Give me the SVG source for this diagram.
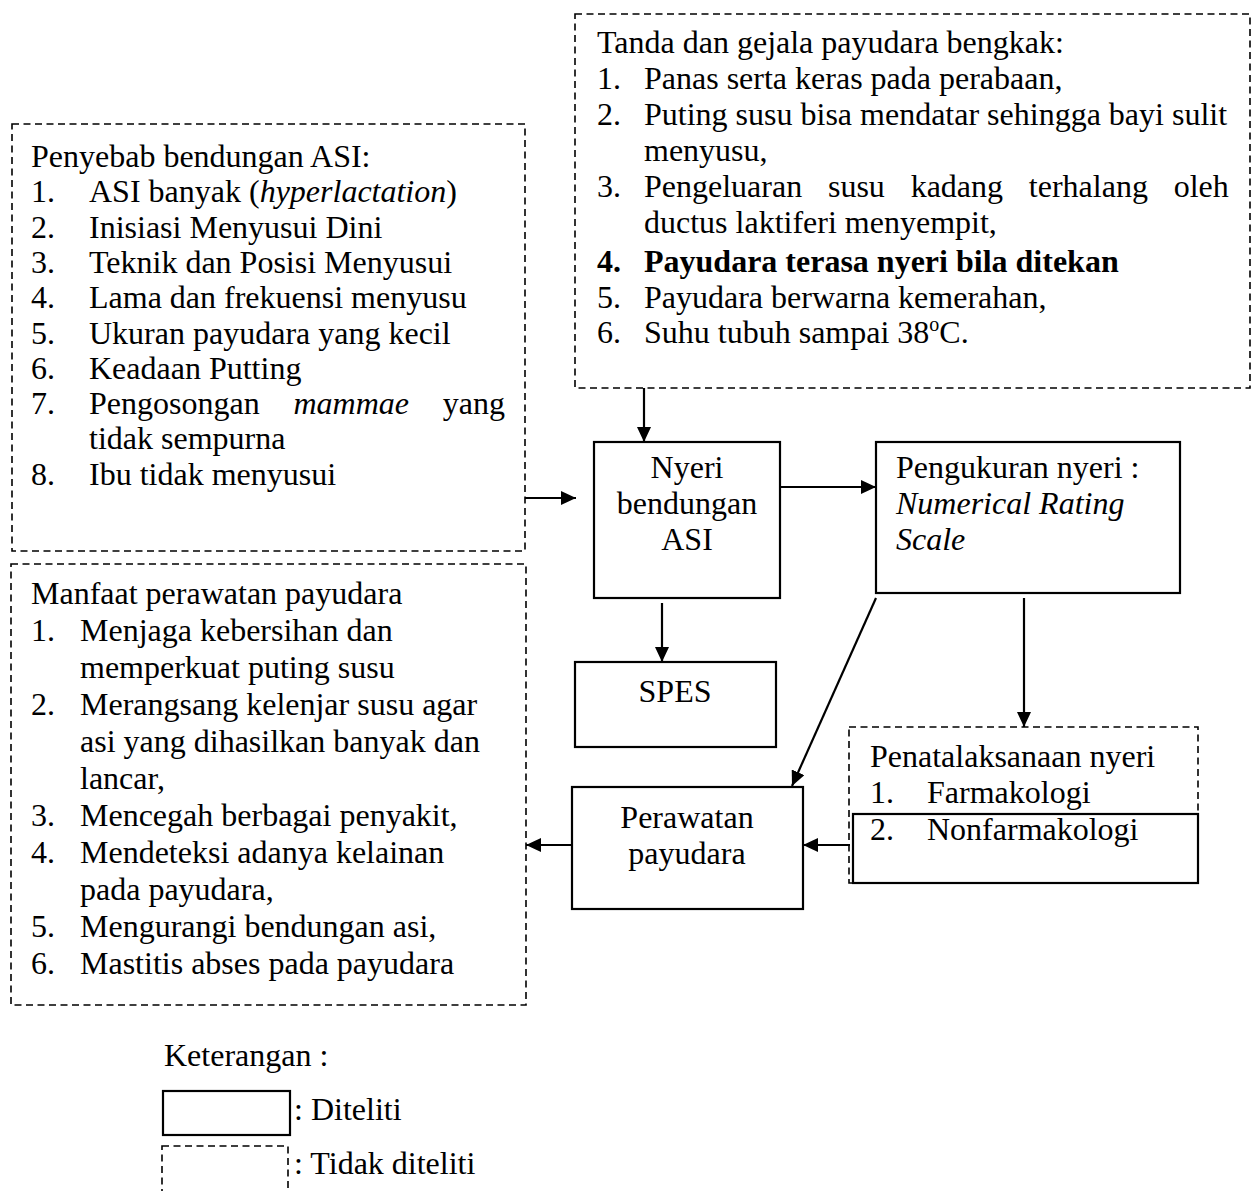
<svg xmlns="http://www.w3.org/2000/svg" width="1252" height="1191" viewBox="0 0 1252 1191">
<style>
text{font-family:"Liberation Serif","Times New Roman",serif;font-size:32px;fill:#000}
.it{font-style:italic}
.b{font-weight:bold}
.c{text-anchor:middle}
.solid{fill:#fff;stroke:#000;stroke-width:2.2}
.frame{fill:none;stroke:#000;stroke-width:2.2}
.dash{fill:none;stroke:#000;stroke-width:1.6;stroke-dasharray:7 4.5}
.conn{stroke:#000;stroke-width:2.2;fill:none;marker-end:url(#ah)}
</style>
<defs>
<marker id="ah" markerUnits="userSpaceOnUse" markerWidth="16" markerHeight="14" refX="15" refY="7" orient="auto">
<path d="M0,0 L15,7 L0,14 z" fill="#000"/>
</marker>
</defs>
<rect width="1252" height="1191" fill="#fff"/>

<g id="tanda-gejala">
<rect class="dash" x="575" y="14" width="675" height="374"/>
<text x="597" y="53">Tanda dan gejala payudara bengkak:</text>
<text x="597" y="89">1.</text><text x="644" y="89">Panas serta keras pada perabaan,</text>
<text x="597" y="125">2.</text><text x="644" y="125">Puting susu bisa mendatar sehingga bayi sulit</text>
<text x="644" y="161">menyusu,</text>
<text x="597" y="197">3.</text><text x="644" y="197" word-spacing="17.8">Pengeluaran susu kadang terhalang oleh</text>
<text x="644" y="233">ductus laktiferi menyempit,</text>
<text x="597" y="272" class="b">4.</text><text x="644" y="272" class="b">Payudara terasa nyeri bila ditekan</text>
<text x="597" y="307.5">5.</text><text x="644" y="307.5">Payudara berwarna kemerahan,</text>
<text x="597" y="343">6.</text><text x="644" y="343">Suhu tubuh sampai 38<tspan font-size="20" dy="-12">o</tspan><tspan dy="12">C.</tspan></text>
</g>

<g id="penyebab">
<rect class="dash" x="12" y="124" width="513" height="427"/>
<text x="31" y="167">Penyebab bendungan ASI:</text>
<text x="31" y="202.3">1.</text><text x="89" y="202.3">ASI banyak (<tspan class="it">hyperlactation</tspan>)</text>
<text x="31" y="237.6">2.</text><text x="89" y="237.6">Inisiasi Menyusui Dini</text>
<text x="31" y="272.9">3.</text><text x="89" y="272.9">Teknik dan Posisi Menyusui</text>
<text x="31" y="308.2">4.</text><text x="89" y="308.2">Lama dan frekuensi menyusu</text>
<text x="31" y="343.5">5.</text><text x="89" y="343.5">Ukuran payudara yang kecil</text>
<text x="31" y="378.8">6.</text><text x="89" y="378.8">Keadaan Putting</text>
<text x="31" y="414.1">7.</text><text x="89" y="414.1">Pengosongan</text><text x="293.5" y="414.1" class="it">mammae</text><text x="442.8" y="414.1">yang</text>
<text x="89" y="449.4">tidak sempurna</text>
<text x="31" y="484.7">8.</text><text x="89" y="484.7">Ibu tidak menyusui</text>
</g>

<g id="manfaat">
<rect class="dash" x="11" y="564" width="515" height="441"/>
<text x="31" y="604">Manfaat perawatan payudara</text>
<text x="31" y="641">1.</text><text x="80" y="641">Menjaga kebersihan dan</text>
<text x="80" y="678">memperkuat puting susu</text>
<text x="31" y="715">2.</text><text x="80" y="715">Merangsang kelenjar susu agar</text>
<text x="80" y="752">asi yang dihasilkan banyak dan</text>
<text x="80" y="789">lancar,</text>
<text x="31" y="826">3.</text><text x="80" y="826">Mencegah berbagai penyakit,</text>
<text x="31" y="863">4.</text><text x="80" y="863">Mendeteksi adanya kelainan</text>
<text x="80" y="900">pada payudara,</text>
<text x="31" y="937">5.</text><text x="80" y="937">Mengurangi bendungan asi,</text>
<text x="31" y="974">6.</text><text x="80" y="974">Mastitis abses pada payudara</text>
</g>

<g id="nyeri">
<rect class="solid" x="594" y="442" width="186" height="156"/>
<text x="687" y="478" class="c">Nyeri</text>
<text x="687" y="514" class="c">bendungan</text>
<text x="687" y="550" class="c">ASI</text>
</g>

<g id="pengukuran">
<rect class="solid" x="876" y="442" width="304" height="151"/>
<text x="896" y="478">Pengukuran nyeri :</text>
<text x="896" y="514" class="it">Numerical Rating</text>
<text x="896" y="550" class="it">Scale</text>
</g>

<g id="spes">
<rect class="solid" x="575" y="662" width="201" height="85"/>
<text x="675" y="702" class="c">SPES</text>
</g>

<g id="perawatan">
<rect class="solid" x="572" y="787" width="231" height="122"/>
<text x="687" y="828" class="c">Perawatan</text>
<text x="687" y="864" class="c">payudara</text>
</g>

<g id="penatalaksanaan">
<rect class="dash" x="849" y="727" width="349" height="156"/>
<rect class="frame" x="853" y="814" width="345" height="69"/>
<text x="870" y="767">Penatalaksanaan nyeri</text>
<text x="870" y="803">1.</text><text x="927" y="803">Farmakologi</text>
<text x="870" y="840">2.</text><text x="927" y="840">Nonfarmakologi</text>
</g>

<g id="connectors">
<line class="conn" x1="644" y1="388" x2="644" y2="442"/>
<line class="conn" x1="525" y1="498" x2="576" y2="498"/>
<line class="conn" x1="780" y1="487" x2="876" y2="487"/>
<line class="conn" x1="662" y1="603" x2="662" y2="662"/>
<line class="conn" x1="1024" y1="598" x2="1024" y2="727"/>
<line class="conn" x1="876" y1="598" x2="792" y2="786"/>
<line class="conn" x1="850" y1="845" x2="803" y2="845"/>
<line class="conn" x1="572" y1="845" x2="526" y2="845"/>
</g>

<g id="legend">
<text x="164" y="1066">Keterangan :</text>
<rect class="solid" x="163" y="1091" width="127" height="44"/>
<text x="294" y="1120">: Diteliti</text>
<rect class="dash" x="162" y="1146" width="126" height="60"/>
<text x="294" y="1174">: Tidak diteliti</text>
</g>
</svg>
